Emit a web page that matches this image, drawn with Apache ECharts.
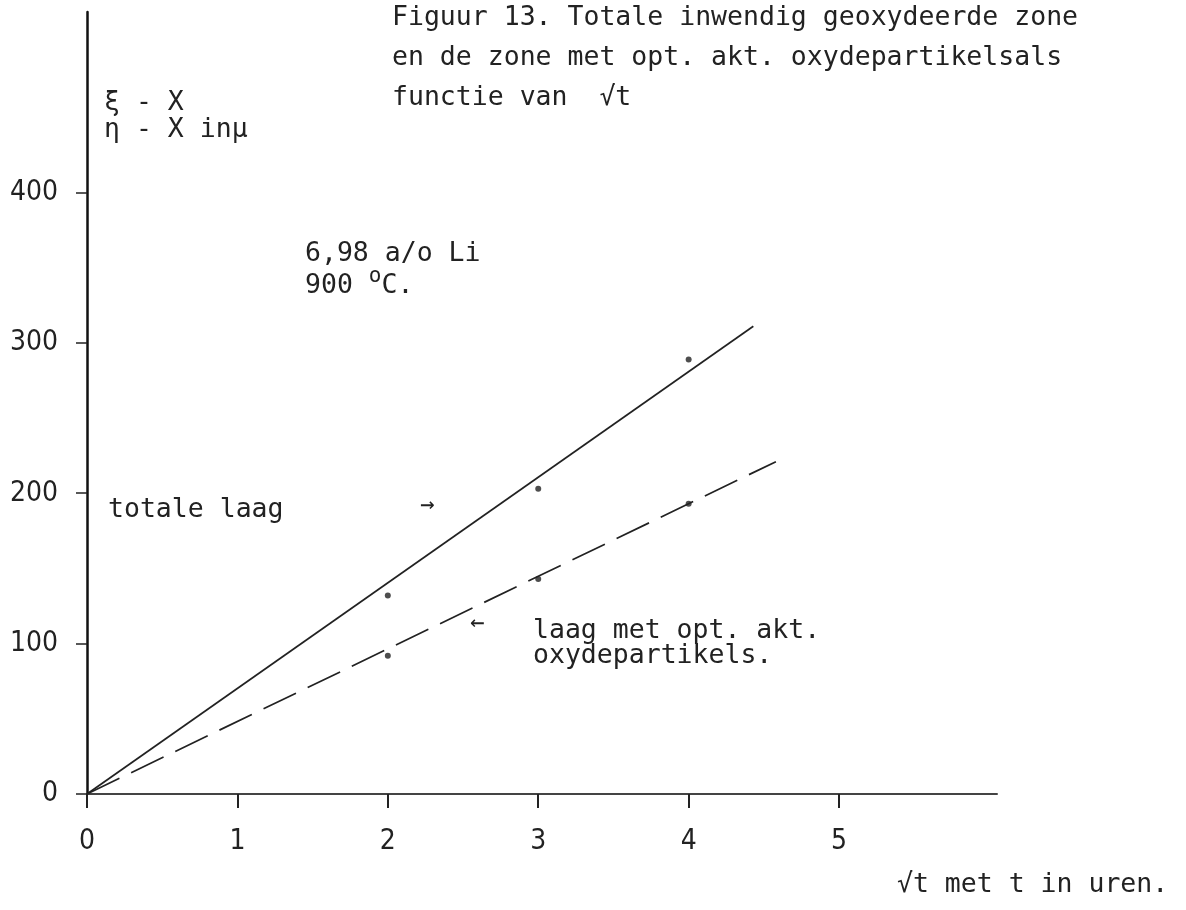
<!DOCTYPE html>
<html>
<head>
<meta charset="utf-8">
<script src="https://cdn.jsdelivr.net/npm/echarts@6/dist/echarts.min.js"></script>
<style>
html,body{margin:0;padding:0;background:#fff;}
#chart{width:1186px;height:910px;}
</style>
</head>
<body>
<div id="chart"></div>
<script>
// ---- data ----
var xTicks = [0, 1, 2, 3, 4, 5];
var yTicks = [0, 100, 200, 300, 400];
var totaleLaagLine = [[0, 0], [4.43, 311]];
var optAktLine = [[0, 0], [4.58, 221]];
var totaleLaagPoints = [[2, 132], [3, 203], [4, 289]];
var optAktPoints = [[2, 92], [3, 143], [4, 193]];
var titleLines = ['Figuur 13. Totale inwendig geoxydeerde zone', 'en de zone met opt. akt. oxydepartikelsals', 'functie van  \u221At'];
var yAxisNameLines = ['\u03BE - X', '\u03B7 - X in\u03BC'];
var xAxisName = '\u221At met t in uren.';
var condLines = ['6,98 a/o Li'];
var totaleLabel = 'totale laag';
var optAktLabel = ['laag met opt. akt.', 'oxydepartikels.'];

var MONO = '"DejaVu Sans Mono", "Liberation Mono", monospace';
var NARROW = '"Liberation Sans Narrow", "DejaVu Sans Condensed", "DejaVu Sans", sans-serif';
var INK = '#222';
var FS = '26.5px ';

function txt(x, y, s, extra) {
  var o = {type: 'text', left: x, top: y, silent: true,
    style: {text: s, font: FS + MONO, fill: INK}};
  if (extra) for (var k in extra) o.style[k] = extra[k];
  return o;
}

var graphics = [];
titleLines.forEach(function (s, i) { graphics.push(txt(392, 5 + i * 40, s)); });
yAxisNameLines.forEach(function (s, i) { graphics.push(txt(104, 90 + i * 27, s)); });
graphics.push(txt(305, 241, condLines[0]));
graphics.push({type: 'text', left: 305, top: 266, silent: true,
  style: {text: '{a|900 }{s|o}{a|C.}', fill: INK,
    rich: {a: {font: FS + MONO, fill: INK}, s: {font: '21px ' + MONO, fill: INK, padding: [0, 0, 20, 0]}}}});
graphics.push(txt(108, 497, totaleLabel));
graphics.push(txt(420, 494, '\u2192', {font: '24px ' + MONO}));
graphics.push(txt(533, 618, optAktLabel[0]));
graphics.push(txt(533, 643, optAktLabel[1]));
graphics.push(txt(470, 612, '\u2190', {font: '24px ' + MONO}));
graphics.push(txt(897, 872, xAxisName));

var chart = echarts.init(document.getElementById('chart'), null, {renderer: 'canvas'});
chart.setOption({
  backgroundColor: '#fff',
  animation: false,
  grid: {left: 87, right: 189, top: 12, bottom: 116, containLabel: false},
  xAxis: {
    type: 'value', min: 0, max: 6.05, interval: 1,
    axisLine: {show: true, onZero: false, lineStyle: {color: '#444', width: 2}},
    axisTick: {show: true, length: 14, customValues: xTicks, lineStyle: {color: INK, width: 2}},
    axisLabel: {customValues: xTicks, margin: 34, color: INK, fontSize: 28, fontFamily: NARROW},
    splitLine: {show: false}
  },
  yAxis: {
    type: 'value', min: 0, max: 520, interval: 100,
    axisLine: {show: true, onZero: false, lineStyle: {color: '#111', width: 2.5}},
    axisTick: {show: true, length: 11, customValues: yTicks, lineStyle: {color: INK, width: 1.5}},
    axisLabel: {customValues: yTicks, margin: 29, color: INK, fontSize: 28, fontFamily: NARROW},
    splitLine: {show: false}
  },
  graphic: graphics,
  series: [
    {type: 'line', data: totaleLaagLine, symbol: 'none', silent: true,
      lineStyle: {color: INK, width: 1.7, type: 'solid'}},
    {type: 'line', data: optAktLine, symbol: 'none', silent: true,
      lineStyle: {color: INK, width: 1.7, type: [36, 13]}},
    {type: 'scatter', data: totaleLaagPoints, symbol: 'circle', symbolSize: 6, silent: true,
      itemStyle: {color: INK}},
    {type: 'scatter', data: optAktPoints, symbol: 'circle', symbolSize: 6, silent: true,
      itemStyle: {color: INK}}
  ]
});
</script>
</body>
</html>
